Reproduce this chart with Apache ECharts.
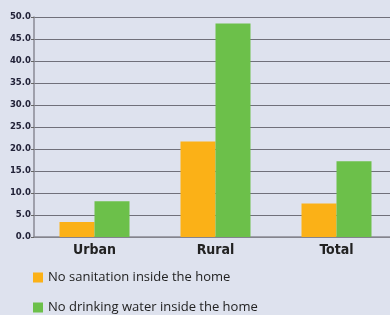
<!DOCTYPE html>
<html>
<head>
<meta charset="utf-8">
<script src="https://cdn.jsdelivr.net/npm/echarts@6/dist/echarts.min.js"></script>
<style>
  html, body { margin: 0; padding: 0; background: #dee2ee; overflow: hidden; }
  #chart { width: 397px; height: 315px; }
</style>
</head>
<body>
<div id="chart"></div>
<script>
var categories = ['Urban', 'Rural', 'Total'];
var noSanitation = [3.4, 21.7, 7.6];
var noDrinkingWater = [8.1, 48.5, 17.2];
var seriesNames = ['No sanitation inside the home', 'No drinking water inside the home'];

var legendText = { fontFamily: 'Open Sans', fontSize: 13, color: '#222' };

var chart = echarts.init(document.getElementById('chart'));
chart.setOption({
    backgroundColor: '#dee2ee',
    animation: false,
    grid: { left: 34, right: 0, top: 17, bottom: 78 },
    legend: [
        { left: 28, top: 266, itemWidth: 10, itemHeight: 10, icon: 'rect', textStyle: legendText, data: [seriesNames[0]] },
        { left: 28, top: 296, itemWidth: 10, itemHeight: 10, icon: 'rect', textStyle: legendText, data: [seriesNames[1]] }
    ],
    xAxis: {
        type: 'category',
        data: categories,
        axisLine: { lineStyle: { color: '#8a8a94', width: 1.5 } },
        axisTick: { show: false },
        axisLabel: { fontFamily: 'DejaVu Sans Condensed', fontWeight: 'bold', fontSize: 14, color: '#222', margin: 6 }
    },
    yAxis: {
        type: 'value',
        min: 0,
        max: 50,
        interval: 5,
        axisLine: { show: true, lineStyle: { color: '#8a8a94', width: 1.5 } },
        axisTick: { show: true, length: 3, lineStyle: { color: '#666' } },
        splitLine: { lineStyle: { color: '#70707a', width: 1 } },
        axisLabel: {
            fontFamily: 'DejaVu Sans Condensed', fontWeight: 'bold', fontSize: 9.5, color: '#222238', margin: 3,
            verticalAlign: 'middle', padding: [0, 0, 3, 0],
            formatter: function (v) { return v.toFixed(1); }
        }
    },
    series: [
        { name: seriesNames[0], type: 'bar', data: noSanitation, itemStyle: { color: '#fbb117' },
          barWidth: 35, barGap: '0%' },
        { name: seriesNames[1], type: 'bar', data: noDrinkingWater, itemStyle: { color: '#6cc04a' },
          barWidth: 35, barGap: '0%' }
    ]
});
</script>
</body>
</html>
